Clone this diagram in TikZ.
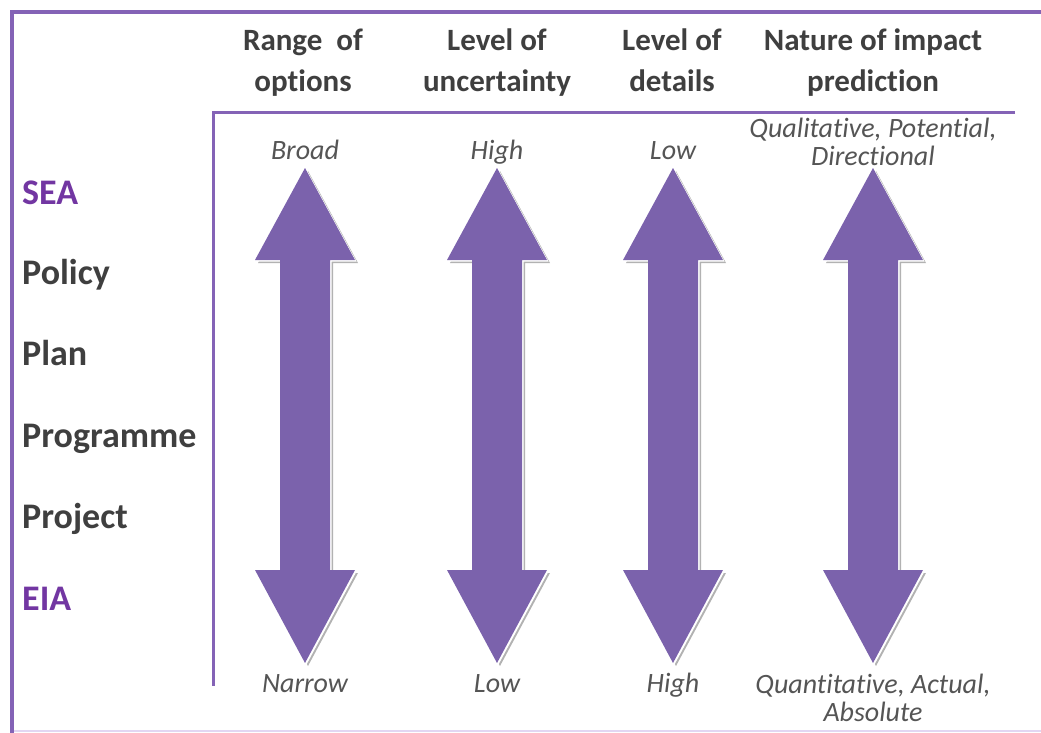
\documentclass[tikz,border=0pt]{standalone}
\usepackage{fontspec}
\setmainfont{Carlito}[Ligatures={NoCommon,NoContextual}]
\usetikzlibrary{positioning}
\definecolor{arrowpurple}{HTML}{7B62AC}
\definecolor{framepurple}{HTML}{8463B6}
\definecolor{labelpurple}{HTML}{7236A2}
\definecolor{lavender}{HTML}{E2D6F2}
\definecolor{textgray}{HTML}{3F3F3F}
\definecolor{notegray}{HTML}{555555}
\newcommand{\dblarrow}[1]{(#1,168) -- (#1+50,260) -- (#1+25,260) -- (#1+25,570) -- (#1+50,570) -- (#1,663) -- (#1-50,570) -- (#1-25,570) -- (#1-25,260) -- (#1-50,260) -- cycle}
\tikzset{
	header/.style={font=\bfseries\fontsize{31}{41}\selectfont, text=textgray, align=center, inner sep=0, anchor=base},
	level/.style={font=\bfseries\fontsize{36}{40}\selectfont, text=textgray, anchor=base west, inner sep=0},
	assess/.style={level, text=labelpurple},
	note/.style={font=\itshape\fontsize{28}{28}\selectfont, text=notegray, align=center, inner sep=0, anchor=base},
}
\begin{document}
\begin{tikzpicture}[x=1pt, y=-1pt]
		\useasboundingbox (0,0) rectangle (1041,733);
		
		%%%%% FRAME %%%%%
		\draw[lavender, line width=2] (12,731) -- (1041,731);
		\draw[framepurple, line width=4] (1041,12) -- (12,12) -- (12,733);
		\draw[framepurple, line width=3] (1015,113) -- (213,113) -- (213,686);
		
		%%%%% LEVELS %%%%%
		\node[assess] (sea) at (22,204) {SEA};
		\node[level] (policy) at (22,284) {Policy};
		\node[level] (plan) at (22,365) {Plan};
		\node[level] (programme) at (22,447) {Programme};
		\node[level] (project) at (22,528) {Project};
		\node[assess] (eia) at (22,610) {EIA};
		
		%%%%% HEADERS %%%%%
		\node[header] (hrange) at (303,92) {Range~ of\\options};
		\node[header] (huncert) at (497,92) {Level of\\uncertainty};
		\node[header] (hdetail) at (672,92) {Level of\\details};
		\node[header] (hnature) at (873,92) {Nature of impact\\prediction};
		
		%%%%% ARROWS %%%%%
		\foreach \cx in {305, 497, 673, 873} {
			\fill[black!30, xshift=3pt, yshift=-3pt] \dblarrow{\cx};
			\fill[white, xshift=1.5pt, yshift=-1.5pt] \dblarrow{\cx};
			\fill[arrowpurple] \dblarrow{\cx};
		}
		
		%%%%% ENDS %%%%%
		\node[note] (broad) at (305,160) {Broad};
		\node[note] (highu) at (497,160) {High};
		\node[note] (lowd) at (673,160) {Low};
		\node[note] (qualit) at (873,165) {Qualitative, Potential,\\Directional};
		
		\node[note] (narrow) at (305,692) {Narrow};
		\node[note] (lowu) at (497,692) {Low};
		\node[note] (highd) at (673,692) {High};
		\node[note] (quantit) at (873,721) {Quantitative, Actual,\\Absolute};
		
	\end{tikzpicture}
\end{document}
